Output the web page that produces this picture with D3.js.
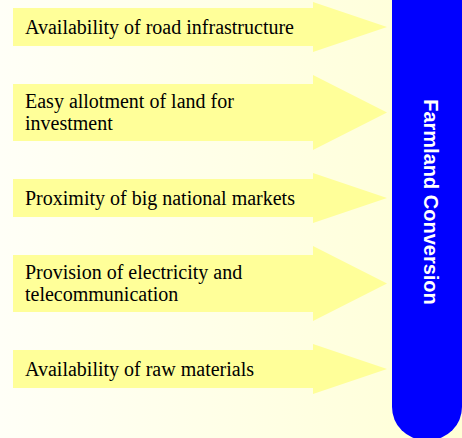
<!DOCTYPE html>
<html>
<head>
<meta charset="utf-8">
<script src="https://cdn.jsdelivr.net/npm/d3@7"></script>
<style>
  body { margin: 0; padding: 0; overflow: hidden; }
</style>
</head>
<body>
<div id="chart"></div>
<script>
// factors pushing farmland conversion
const factors = [
  "Availability of road infrastructure",
  "Easy allotment of land for investment",
  "Proximity of big national markets",
  "Provision of electricity and telecommunication",
  "Availability of raw materials"
];
// how each label is broken into lines
const factorLines = [
  ["Availability of road infrastructure"],
  ["Easy allotment of land for", "investment"],
  ["Proximity of big national markets"],
  ["Provision of electricity and", "telecommunication"],
  ["Availability of raw materials"]
];
const target = "Farmland Conversion";

const width = 462, height = 438;

const svg = d3.select("#chart").append("svg")
    .attr("width", width)
    .attr("height", height);

// background gradient, white-ish to pale yellow
const defs = svg.append("defs");
const grad = defs.append("linearGradient")
    .attr("id", "bg")
    .attr("x1", "0%").attr("x2", "100%")
    .attr("y1", "0%").attr("y2", "0%");
grad.append("stop").attr("offset", "0%").attr("stop-color", "#fffff7");
grad.append("stop").attr("offset", "100%").attr("stop-color", "#ffffd6");

svg.append("rect")
    .attr("width", width)
    .attr("height", height)
    .attr("fill", "url(#bg)");

// vertical position of each arrow
const y = d3.scalePoint()
    .domain(factors)
    .range([27, 369]);

// horizontal extent of arrows
const x = d3.scaleLinear()
    .domain([0, 1])
    .range([13, 387]);
const headStart = 313;

const lineH = 22.5;

function arrowPath(cy, n) {
  const bh = n > 1 ? 57 : 38;
  const over = Math.round(bh * 0.15);
  const t = cy - bh / 2, b = cy + bh / 2;
  return d3.line()([
    [x(0), t], [headStart, t], [headStart, t - over],
    [x(1), cy],
    [headStart, b + over], [headStart, b], [x(0), b]
  ]) + "Z";
}

const arrows = svg.append("g")
  .selectAll("g")
  .data(factors)
  .join("g");

arrows.append("path")
    .attr("d", (d, i) => arrowPath(y(d), factorLines[i].length))
    .attr("fill", "#ffff99");

arrows.append("text")
    .attr("x", 25)
    .attr("y", (d, i) => y(d) - (factorLines[i].length - 1) * lineH / 2)
    .attr("font-family", "'Liberation Serif', 'Times New Roman', serif")
    .attr("font-size", 20)
    .attr("fill", "#000")
    .selectAll("tspan")
    .data((d, i) => factorLines[i])
    .join("tspan")
      .attr("x", 25)
      .attr("dy", (d, j) => j === 0 ? "0.33em" : lineH)
      .text(d => d);

// blue rounded box on the right
svg.append("rect")
    .attr("x", 392)
    .attr("y", -40)
    .attr("width", 70)
    .attr("height", 480)
    .attr("rx", 33)
    .attr("ry", 33)
    .attr("fill", "#0000ff");

svg.append("text")
    .attr("transform", "translate(431,202) rotate(90)")
    .attr("text-anchor", "middle")
    .attr("dy", "0.35em")
    .attr("font-family", "'Liberation Sans', Arial, sans-serif")
    .attr("font-weight", "bold")
    .attr("font-size", 20)
    .attr("fill", "#fff")
    .text(target);
</script>
</body>
</html>
